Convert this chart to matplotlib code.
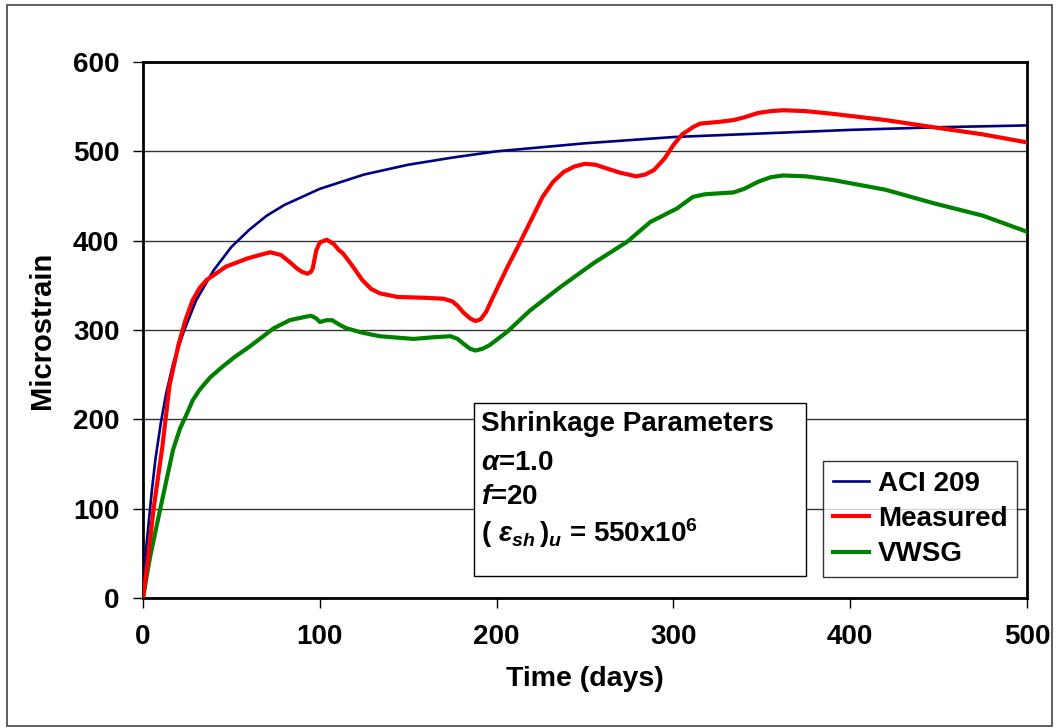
import numpy as np
import matplotlib
matplotlib.use("Agg")
import matplotlib.pyplot as plt
from matplotlib.patches import Rectangle

# values (time in days, microstrain)
aci_t = [0, 2, 5, 7, 10, 13, 17, 23, 30, 40, 50, 60, 70, 80, 100, 125, 150, 175,
         200, 250, 300, 350, 400, 450, 500]
aci_v = [0, 60, 120, 155, 195, 228, 262, 298, 333, 367, 393, 412, 428, 440, 458,
         474, 485, 493, 500, 509, 516, 520, 524, 527, 529]

meas_t = [0, 2, 6, 11, 15, 20, 24, 28, 32, 36, 47, 59, 66, 72, 78, 83, 87, 90, 93,
          95, 96, 98, 100, 104, 108, 111, 113, 118, 124, 129, 134, 144, 160, 170,
          175, 178, 181, 185, 188, 191, 194, 198, 206, 213, 219, 226, 232, 238, 244,
          250, 256, 262, 270, 279, 284, 289, 295, 300, 305, 311, 315, 326, 334, 340,
          348, 355, 362, 375, 390, 420, 447, 475, 500]
meas_v = [0, 30, 100, 170, 238, 283, 311, 333, 347, 356, 371, 380, 384, 387, 384,
          376, 369, 365, 363, 365, 369, 389, 398, 401, 396, 389, 386, 373, 356, 346,
          341, 337, 336, 335, 332, 327, 320, 313, 310, 312, 320, 337, 370, 397, 421,
          449, 466, 477, 483, 486, 485, 481, 476, 472, 474, 479, 492, 507, 519, 527,
          531, 533, 535, 538, 543, 545, 546, 545, 542, 535, 527, 519, 510]

vwsg_t = [0, 4, 10, 17, 21, 25, 28, 32, 38, 45, 52, 60, 74, 83, 90, 95, 98, 100,
          104, 107, 111, 115, 124, 134, 153, 165, 174, 178, 181, 185, 188, 192, 196,
          206, 219, 236, 255, 274, 287, 302, 311, 318, 326, 334, 340, 348, 355, 362,
          375, 390, 420, 447, 475, 500]
vwsg_v = [0, 46, 102, 166, 190, 207, 221, 233, 247, 259, 270, 281, 302, 311, 314,
          316, 313, 309, 311, 311, 306, 302, 297, 293, 290, 292, 293, 290, 285, 279,
          277, 279, 283, 298, 322, 348, 375, 399, 421, 436, 449, 452, 453, 454, 458,
          466, 471, 473, 472, 468, 457, 442, 428, 410]

x_ticks = [0, 100, 200, 300, 400, 500]
y_ticks = [0, 100, 200, 300, 400, 500, 600]

plt.rcParams['font.family'] = ['Liberation Sans', 'DejaVu Sans']
plt.rcParams['font.weight'] = 'bold'
plt.rcParams['mathtext.fontset'] = 'custom'
plt.rcParams['mathtext.rm'] = 'Liberation Sans:bold'
plt.rcParams['mathtext.it'] = 'Liberation Sans:italic:bold'
plt.rcParams['mathtext.bf'] = 'Liberation Sans:bold'

fig = plt.figure(figsize=(10.58, 7.28), dpi=100)
ax = fig.add_axes([143 / 1058, 130 / 728, 884 / 1058, 536 / 728])

ax.plot(aci_t, aci_v, color='#000080', lw=1.9, label='ACI 209', zorder=3)
ax.plot(meas_t, meas_v, color='#FF0000', lw=3.0, label='Measured', zorder=4,
        solid_joinstyle='round')
ax.plot(vwsg_t, vwsg_v, color='#008000', lw=3.0, label='VWSG', zorder=3,
        solid_joinstyle='round')

ax.set_xlim(0, 500)
ax.set_ylim(0, 600)
ax.set_xticks(x_ticks)
ax.set_yticks(y_ticks)
ax.yaxis.grid(True, color='#333333', lw=1.0)
ax.set_axisbelow(True)
for s in ax.spines.values():
    s.set_linewidth(2.0)
ax.tick_params(direction='out', length=7, width=1, labelsize=20)
ax.tick_params(axis='y', pad=10)
ax.tick_params(axis='x', pad=12)
for lab in ax.get_xticklabels() + ax.get_yticklabels():
    lab.set_fontweight('bold')

ax.set_xlabel('Time (days)', fontsize=20.5, fontweight='bold', labelpad=11)
ax.set_ylabel('Microstrain', fontsize=21, fontweight='bold', labelpad=12)

# parameter box
ax.add_patch(Rectangle((474, 152), 332, 173, transform=None, facecolor='white',
                       edgecolor='black', lw=1.0, zorder=5))
fig.text(481 / 1058, 1 - 424 / 728, 'Shrinkage Parameters', fontsize=20,
         fontweight='bold', va='center', ha='left', zorder=6)
fig.text(481 / 1058, 1 - 463 / 728, r'$\mathit{\alpha}$=1.0', fontsize=20,
         fontweight='bold', va='center', ha='left', zorder=6)
fig.text(481 / 1058, 1 - 497 / 728, r'$\mathit{f}$=20', fontsize=20,
         fontweight='bold', va='center', ha='left', zorder=6)
fig.text(481 / 1058, 1 - 533 / 728,
         r'$\mathit{(\ \varepsilon_{sh}\,)_{u}}$ = 550x10$^{6}$', fontsize=20,
         fontweight='bold', va='center', ha='left', zorder=6)

leg = ax.legend(loc='lower right', bbox_to_anchor=(1017 / 1058, 151 / 728),
                bbox_transform=fig.transFigure, fontsize=20, frameon=True,
                fancybox=False, edgecolor='black', handlelength=1.3,
                handletextpad=0.3, borderpad=0.35, labelspacing=0.33,
                borderaxespad=0)
leg.get_frame().set_linewidth(1.0)
for t in leg.get_texts():
    t.set_fontweight('bold')

# outer chart border
fig.patches.append(Rectangle((7 / 1058, 2 / 728), 1045 / 1058, 721 / 728,
                             transform=fig.transFigure, fill=False,
                             edgecolor='#444444', lw=1.2))

fig.savefig('out.png', dpi=100)
